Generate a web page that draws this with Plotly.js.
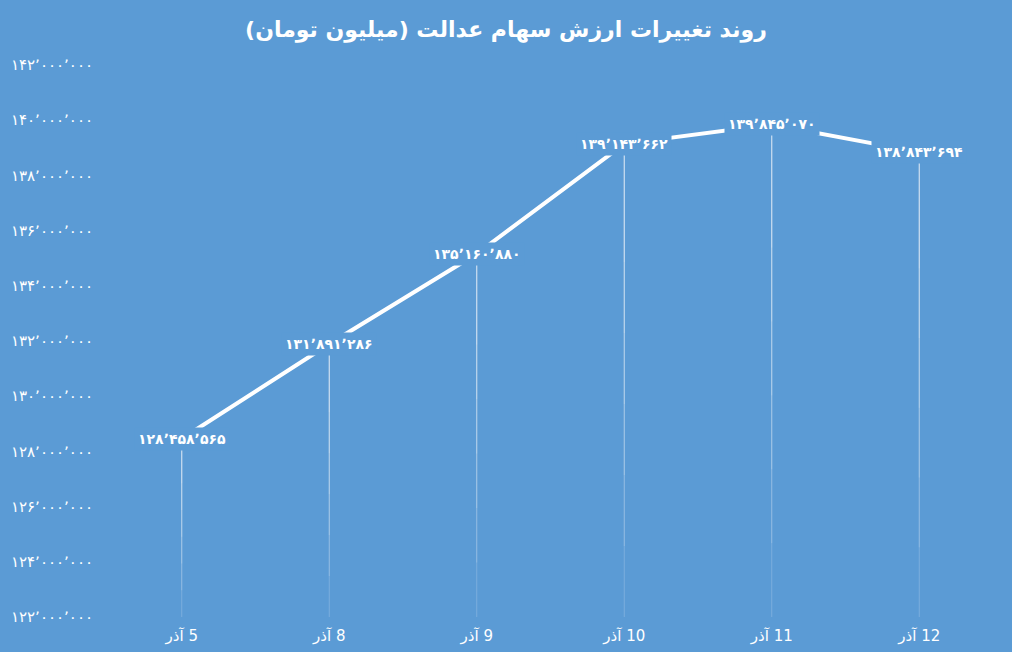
<!DOCTYPE html>
<html>
<head>
<meta charset="utf-8">
<script src="https://cdn.plot.ly/plotly-3.0.1.min.js"></script>
<style>html,body{margin:0;padding:0;background:#5B9BD5;}#chart{width:1012px;height:652px;}</style>
</head>
<body>
<div id="chart"></div>
<script>
const categories = ['5 آذر', '8 آذر', '9 آذر', '10 آذر', '11 آذر', '12 آذر'];
const values = [128458565, 131891286, 135160880, 139143662, 139845070, 138843694];
const yTickValues = [122e6,124e6,126e6,128e6,130e6,132e6,134e6,136e6,138e6,140e6,142e6];
const titleText = 'روند تغییرات ارزش سهام عدالت (میلیون تومان)';

const BG = '#5B9BD5';
const FONT = 'Tahoma, "DejaVu Sans", sans-serif';
const YMIN = 122e6, YMAX = 142e6;

function toPersian(n) {
  const s = Math.round(n).toString().replace(/\B(?=(\d{3})+(?!\d))/g, '\u066C');
  return s.replace(/\d/g, d => '۰۱۲۳۴۵۶۷۸۹'[+d]);
}
const rtl = s => '\u202B' + s + '\u202C';

// drop lines (fading toward bottom) built as stacked error bars from the values
const dropTraces = [];
const layers = [1, 0.85, 0.7, 0.55, 0.4, 0.25];
layers.forEach(f => {
  dropTraces.push({
    type: 'scatter', mode: 'markers', x: categories, y: values,
    marker: {size: 0.1, color: 'rgba(0,0,0,0)'},
    hoverinfo: 'skip', showlegend: false,
    error_y: {type: 'data', symmetric: false, array: values.map(() => 0),
      arrayminus: values.map(v => (v - YMIN) * f),
      color: 'rgba(255,255,255,0.2)', thickness: 1, width: 0}
  });
});

const lineTrace = {
  type: 'scatter', mode: 'lines', x: categories, y: values,
  line: {color: '#FFFFFF', width: 4}, hoverinfo: 'skip', showlegend: false
};

const annotations = categories.map((c, i) => ({
  x: c, y: values[i], xref: 'x', yref: 'y', text: toPersian(values[i]),
  showarrow: false, bgcolor: BG, borderpad: 3,
  font: {family: FONT, size: 14, color: '#FFFFFF', weight: 'bold'}
}));

const layout = {
  width: 1012, height: 652,
  paper_bgcolor: BG, plot_bgcolor: BG,
  margin: {l: 108, r: 19, t: 65, b: 35},
  title: {text: '<b>' + rtl(titleText) + '</b>', x: 0.5, xanchor: 'center', y: 0.955, yanchor: 'middle',
    font: {family: FONT, size: 22, color: '#FFFFFF'}},
  xaxis: {type: 'category', tickvals: categories, ticktext: categories.map(rtl),
    showgrid: false, zeroline: false, showline: false, ticks: '', ticklabelstandoff: 8,
    tickfont: {family: FONT, size: 15, color: '#FFFFFF'}, range: [-0.5, 5.5], fixedrange: true},
  yaxis: {range: [YMIN, YMAX], tickvals: yTickValues, ticktext: yTickValues.map(toPersian),
    showgrid: false, zeroline: false, showline: false, ticks: '', ticklabelstandoff: 14,
    tickfont: {family: FONT, size: 15, color: '#FFFFFF'}, fixedrange: true},
  annotations: annotations,
  showlegend: false
};

Plotly.newPlot('chart', [...dropTraces, lineTrace], layout, {displayModeBar: false, staticPlot: true});
</script>
</body>
</html>
